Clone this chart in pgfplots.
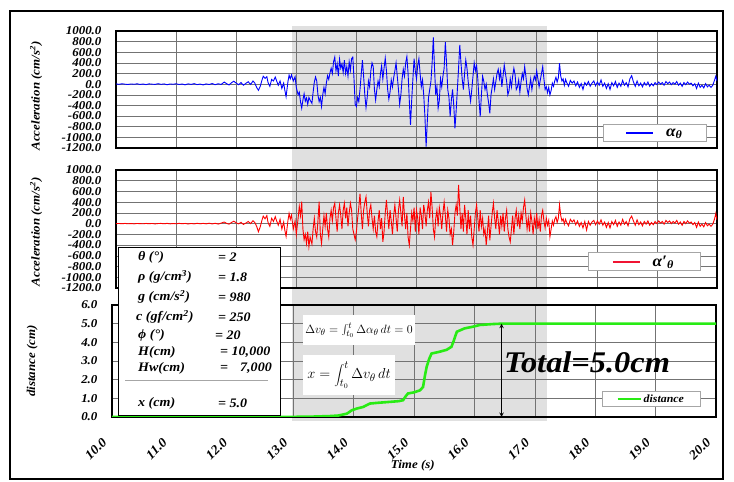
\documentclass[border=0pt]{standalone}
\usepackage{fontspec}
\setmainfont{Liberation Serif}[FakeStretch=1.08]
\usepackage{pgfplots}
\pgfplotsset{compat=1.18}
\definecolor{shadecol}{gray}{0.88}
\definecolor{gridc}{gray}{0.45}
\definecolor{lgreen}{RGB}{40,235,20}
\definecolor{lred}{RGB}{240,20,50}

\newcommand\bi[1]{\fontsize{#1}{#1}\selectfont\bfseries\itshape}

\pgfplotsset{
  legend image code/.code={\draw[#1, line width=1.6pt] (0pt,0pt) -- (27pt,0pt);},
  panel/.style={
    scale only axis, xmin=10, xmax=20, xtick={10,11,...,20},
    grid=major, major grid style={gridc, line width=0.5pt},
    axis line style={line width=1.4pt}, major tick length=0pt,
    scaled ticks=false,
    tick label style={font=\bi{12}},
    /pgf/number format/fixed, /pgf/number format/zerofill,
    /pgf/number format/precision=1, /pgf/number format/1000 sep={},
    /pgf/number format/assume math mode=true,
    yticklabel style={xshift=-11pt},
    ylabel style={font=\bi{12}, anchor=center},
    legend cell align=left,
  },
}

\begin{document}
\begin{tikzpicture}
\path[use as bounding box] (0,0) rectangle (734pt,482pt);
\draw[line width=1.2pt] (10pt,3pt) rectangle (723pt,471pt);
\fill[shadecol] (292pt,61pt) rectangle (547pt,456pt);

% top panel
\begin{axis}[panel, at={(116pt,334pt)}, anchor=south west, width=601pt, height=117pt,
  ymin=-1200, ymax=1000, ytick={-1200,-1000,...,1000}, xticklabels={},
  ylabel={Acceleration (cm/s\textsuperscript{2})},
  ylabel style={at={(axis description cs:-0.133,0.444)}},
  legend style={at={(0.983,0.051)}, anchor=south east, draw=gray!70, line width=0.6pt,
    inner xsep=22pt, inner ysep=2pt, font=\bi{16}}]
\addplot[blue, line width=0.9pt] coordinates {
(10.00,5)(10.05,-3)(10.10,8)(10.15,0)(10.20,-6)(10.25,4)(10.30,-2)(10.35,7)(10.40,-5)(10.45,3)(10.50,-8)(10.55,6)(10.60,0)(10.65,-4)(10.70,9)(10.75,-3)(10.80,5)(10.85,-10)(10.90,4)(10.95,-2)
(11.00,8)(11.05,-6)(11.10,3)(11.15,-12)(11.20,6)(11.25,-4)(11.30,10)(11.35,-8)(11.40,2)(11.45,-14)(11.50,5)(11.55,-6)(11.60,12)(11.65,-10)(11.70,8)(11.75,-5)(11.80,40)
(11.84,10)(11.88,-15)(11.92,25)(11.96,55)(12.00,20)(12.04,-10)(12.08,30)(12.12,-20)(12.16,15)(12.20,45)(12.24,-5)(12.28,60)(12.31,20)
(12.34,-60)(12.37,-115)(12.40,-40)(12.43,80)(12.45,150)(12.48,110)(12.51,140)(12.53,30)(12.56,-40)(12.59,90)(12.62,60)(12.65,135)(12.67,70)(12.70,-20)(12.73,60)(12.76,-80)(12.79,20)(12.81,-120)(12.83,-235)(12.86,40)(12.88,170)(12.90,100)(12.92,175)(12.95,60)(12.98,140)
(13.00,-60)(13.03,-200)(13.05,-150)(13.07,-330)(13.09,-450)(13.11,-300)(13.13,-180)(13.15,-320)(13.17,-260)(13.19,-380)(13.21,-250)(13.23,-300)(13.26,-360)(13.28,-150)(13.30,40)(13.32,135)(13.34,60)(13.36,-200)(13.38,-330)(13.40,-250)(13.42,-420)(13.44,-200)(13.46,-60)(13.48,-180)(13.50,20)
(13.52,160)(13.54,90)(13.56,210)(13.58,300)(13.60,200)(13.62,420)(13.64,510)(13.66,250)(13.68,380)(13.70,150)(13.72,470)(13.74,300)(13.76,380)(13.78,220)(13.80,450)(13.82,200)(13.84,330)(13.86,150)(13.88,420)(13.90,260)(13.92,480)(13.94,510)(13.96,100)(13.98,-380)
(14.00,-420)(14.02,-250)(14.04,-330)(14.06,-100)(14.08,180)(14.10,450)(14.12,150)(14.14,-200)(14.16,-440)(14.18,-250)(14.20,60)(14.22,-50)(14.24,250)(14.26,400)(14.28,330)(14.30,-100)(14.32,-300)(14.34,-100)(14.36,60)(14.38,-50)(14.40,200)(14.42,350)(14.44,100)(14.46,300)(14.48,490)
(14.50,250)(14.52,-100)(14.54,-280)(14.56,-150)(14.58,80)(14.60,-50)(14.62,120)(14.64,250)(14.66,400)(14.68,150)(14.70,-100)(14.72,-380)(14.74,-200)(14.76,100)(14.78,280)(14.80,150)(14.82,400)(14.84,520)(14.86,200)(14.88,-300)(14.90,-767)(14.92,-300)(14.94,100)(14.96,480)(14.98,250)
(15.00,100)(15.02,350)(15.04,480)(15.06,200)(15.08,-50)(15.10,80)(15.12,-200)(15.14,-600)(15.16,-1175)(15.18,-700)(15.20,-250)(15.22,-100)(15.24,50)(15.26,400)(15.28,880)(15.30,300)(15.32,-200)(15.34,-50)(15.36,-450)(15.38,-300)(15.40,100)(15.42,-50)(15.44,150)(15.46,300)(15.48,790)
(15.50,400)(15.52,-100)(15.54,-250)(15.56,-610)(15.58,-300)(15.60,-100)(15.62,-400)(15.64,-830)(15.66,-500)(15.68,-100)(15.70,300)(15.72,740)(15.74,400)(15.76,100)(15.78,-100)(15.80,200)(15.82,455)(15.84,300)(15.86,50)(15.88,-150)(15.90,-320)(15.92,-100)(15.94,150)(15.96,400)(15.98,250)
(16.00,350)(16.02,100)(16.04,-300)(16.06,-610)(16.08,-200)(16.10,150)(16.12,50)(16.14,-100)(16.16,0)(16.18,-200)(16.20,-350)(16.22,-550)(16.24,-200)(16.26,-50)(16.28,100)(16.30,-100)(16.32,50)(16.34,200)(16.36,280)(16.38,100)(16.40,250)(16.42,-50)(16.44,150)(16.46,360)(16.48,200)
(16.50,50)(16.52,-200)(16.54,-120)(16.56,100)(16.58,-50)(16.60,150)(16.62,300)(16.64,180)(16.66,-100)(16.68,-50)(16.70,80)(16.72,-150)(16.74,50)(16.76,200)(16.78,100)(16.80,330)(16.82,150)(16.84,-80)(16.86,-200)(16.88,-50)(16.90,100)(16.92,-100)(16.94,50)(16.96,150)(16.98,80)
(17.00,250)(17.02,100)(17.04,-50)(17.06,80)(17.08,200)(17.10,330)(17.12,100)(17.14,-100)(17.16,-50)(17.18,-160)(17.20,-60)(17.22,-203)(17.24,-120)(17.26,20)(17.28,-40)(17.30,60)(17.32,130)(17.34,40)(17.36,120)(17.38,393)(17.40,150)(17.42,60)(17.44,100)(17.46,-20)(17.48,90)
(17.50,30)(17.53,-40)(17.56,70)(17.59,20)(17.62,60)(17.65,-30)(17.68,40)(17.71,-60)(17.74,10)(17.77,-100)(17.80,30)(17.83,-20)(17.86,50)(17.89,-40)(17.92,20)(17.95,60)(17.98,-30)
(18.01,40)(18.04,-20)(18.07,80)(18.10,-40)(18.13,20)(18.16,-80)(18.19,10)(18.22,-100)(18.25,30)(18.28,-30)(18.31,50)(18.34,-60)(18.37,20)(18.40,-40)(18.43,70)(18.46,-20)(18.49,30)(18.52,-50)(18.55,100)(18.58,160)(18.61,40)(18.64,-40)(18.67,60)(18.70,-30)(18.73,20)(18.76,-50)(18.79,30)(18.82,-20)(18.85,40)(18.88,-40)(18.91,10)(18.94,-30)(18.97,30)
(19.00,-10)(19.03,40)(19.06,0)(19.09,30)(19.12,-20)(19.15,50)(19.18,10)(19.21,40)(19.24,-10)(19.27,30)(19.30,0)(19.33,50)(19.36,-20)(19.39,20)(19.42,-40)(19.45,30)(19.48,-10)(19.51,40)(19.54,0)(19.57,20)(19.60,-30)(19.63,10)(19.66,-80)(19.69,20)(19.72,-60)(19.75,-20)(19.78,-70)(19.81,10)(19.84,-50)(19.87,-20)(19.90,-60)(19.93,-20)(19.96,80)(19.98,150)(20.00,60)
};
\addlegendentry{\hspace{10pt}α\textsubscript{θ}}
\end{axis}

% middle panel
\begin{axis}[panel, at={(116pt,194pt)}, anchor=south west, width=601pt, height=118pt,
  ymin=-1200, ymax=1000, ytick={-1200,-1000,...,1000}, xticklabels={},
  ylabel={Acceleration (cm/s\textsuperscript{2})},
  ylabel style={at={(axis description cs:-0.133,0.475)}},
  legend style={at={(0.972,0.144)}, anchor=south east, draw=gray!70, line width=0.6pt,
    inner xsep=24pt, inner ysep=1pt, font=\bi{16}},
  legend image code/.code={\draw[lred, line width=1.6pt] (0pt,0pt) -- (27pt,0pt);}]
\addplot[red, line width=0.9pt] coordinates {
(10.00,0)(10.05,3)(10.10,-2)(10.15,4)(10.20,-3)(10.25,2)(10.30,-4)(10.35,3)(10.40,0)(10.45,-3)(10.50,4)(10.55,-2)(10.60,3)(10.65,-5)(10.70,2)(10.75,4)(10.80,-3)(10.85,5)(10.90,-4)(10.95,2)
(11.00,-3)(11.05,5)(11.10,-2)(11.15,4)(11.20,-6)(11.25,3)(11.30,-4)(11.35,6)(11.40,-3)(11.45,5)(11.50,-4)(11.55,8)(11.60,-5)(11.65,6)(11.70,-8)(11.75,10)(11.80,30)
(11.84,5)(11.88,-10)(11.92,20)(11.96,45)(12.00,15)(12.04,-5)(12.08,25)(12.12,-15)(12.16,10)(12.20,40)(12.24,0)(12.28,55)(12.31,20)
(12.34,-50)(12.37,-150)(12.40,-60)(12.43,70)(12.45,140)(12.48,90)(12.51,150)(12.53,20)(12.56,-50)(12.59,100)(12.62,40)(12.65,130)(12.67,60)(12.70,-30)(12.73,80)(12.76,-100)(12.79,30)(12.81,-130)(12.83,-240)(12.86,50)(12.88,190)(12.90,80)(12.92,160)(12.95,-100)(12.98,50)
(13.00,-200)(13.03,100)(13.05,320)(13.07,150)(13.09,410)(13.11,-100)(13.13,-300)(13.15,-200)(13.17,-370)(13.19,-150)(13.21,-430)(13.23,-250)(13.26,-380)(13.28,-100)(13.30,100)(13.32,-150)(13.34,-250)(13.36,50)(13.38,410)(13.40,-200)(13.42,-370)(13.44,-100)(13.46,150)(13.48,-50)(13.50,200)
(13.52,-100)(13.54,-250)(13.56,100)(13.58,250)(13.60,50)(13.62,300)(13.64,380)(13.66,100)(13.68,-150)(13.70,200)(13.72,350)(13.74,150)(13.76,-100)(13.78,250)(13.80,380)(13.82,100)(13.84,300)(13.86,-50)(13.88,200)(13.90,380)(13.92,250)(13.94,-100)(13.96,-200)(13.98,-300)
(14.00,-150)(14.02,100)(14.04,300)(14.06,560)(14.08,200)(14.10,-100)(14.12,250)(14.14,400)(14.16,500)(14.18,200)(14.20,-50)(14.22,250)(14.24,350)(14.26,100)(14.28,-100)(14.30,150)(14.32,-150)(14.34,-245)(14.36,50)(14.38,250)(14.40,-100)(14.42,100)(14.44,-340)(14.46,-150)(14.48,200)
(14.50,440)(14.52,150)(14.54,-100)(14.56,250)(14.58,50)(14.60,-200)(14.62,150)(14.64,350)(14.66,100)(14.68,-150)(14.70,250)(14.72,440)(14.74,200)(14.76,-50)(14.78,500)(14.80,150)(14.82,-100)(14.84,200)(14.86,-250)(14.88,-400)(14.90,-100)(14.92,200)(14.94,50)(14.96,300)(14.98,-150)
(15.00,250)(15.02,100)(15.04,-200)(15.06,300)(15.08,150)(15.10,-100)(15.12,350)(15.14,200)(15.16,-50)(15.18,250)(15.20,400)(15.22,100)(15.24,590)(15.26,300)(15.28,-100)(15.30,-250)(15.32,100)(15.34,250)(15.36,-50)(15.38,300)(15.40,150)(15.42,-100)(15.44,200)(15.46,400)(15.48,150)
(15.50,-150)(15.52,250)(15.54,100)(15.56,-200)(15.58,-100)(15.60,-400)(15.62,-150)(15.64,200)(15.66,350)(15.68,150)(15.70,720)(15.72,300)(15.74,-100)(15.76,200)(15.78,-150)(15.80,350)(15.82,100)(15.84,-200)(15.86,250)(15.88,-100)(15.90,150)(15.92,-250)(15.94,-400)(15.96,-100)(15.98,200)
(16.00,350)(16.02,100)(16.04,-150)(16.06,250)(16.08,-50)(16.10,100)(16.12,-200)(16.14,-100)(16.16,-400)(16.18,-150)(16.20,150)(16.22,-310)(16.24,-50)(16.26,200)(16.28,380)(16.30,100)(16.32,-100)(16.34,250)(16.36,50)(16.38,-200)(16.40,150)(16.42,-50)(16.44,200)(16.46,-150)(16.48,100)
(16.50,250)(16.52,-100)(16.54,-250)(16.56,-340)(16.58,-100)(16.60,150)(16.62,-200)(16.64,100)(16.66,250)(16.68,-50)(16.70,150)(16.72,-100)(16.74,200)(16.76,50)(16.78,300)(16.80,440)(16.82,150)(16.84,-100)(16.86,100)(16.88,-150)(16.90,200)(16.92,50)(16.94,-200)(16.96,100)(16.98,-50)
(17.00,200)(17.02,-100)(17.04,80)(17.06,-150)(17.08,150)(17.10,250)(17.12,50)(17.14,-80)(17.16,100)(17.18,-30)(17.20,60)(17.22,-245)(17.24,-100)(17.26,50)(17.28,-30)(17.30,80)(17.32,130)(17.34,20)(17.36,100)(17.38,350)(17.40,150)(17.42,50)(17.44,90)(17.46,-10)(17.48,80)
(17.50,20)(17.53,-40)(17.56,80)(17.59,30)(17.62,70)(17.65,-20)(17.68,50)(17.71,-50)(17.74,20)(17.77,-80)(17.80,40)(17.83,-120)(17.86,40)(17.89,-30)(17.92,30)(17.95,60)(17.98,-20)
(18.01,50)(18.04,-10)(18.07,70)(18.10,-30)(18.13,30)(18.16,-70)(18.19,20)(18.22,-80)(18.25,40)(18.28,-20)(18.31,60)(18.34,-50)(18.37,30)(18.40,-30)(18.43,80)(18.46,-10)(18.49,40)(18.52,-40)(18.55,90)(18.58,140)(18.61,50)(18.64,-30)(18.67,70)(18.70,-20)(18.73,30)(18.76,-40)(18.79,40)(18.82,-10)(18.85,50)(18.88,-30)(18.91,20)(18.94,-20)(18.97,40)
(19.00,0)(19.03,50)(19.06,10)(19.09,40)(19.12,-10)(19.15,60)(19.18,20)(19.21,50)(19.24,0)(19.27,40)(19.30,10)(19.33,60)(19.36,-10)(19.39,30)(19.42,-30)(19.45,40)(19.48,0)(19.51,50)(19.54,10)(19.57,30)(19.60,-20)(19.63,20)(19.66,-70)(19.69,30)(19.72,-50)(19.75,-10)(19.78,-60)(19.81,20)(19.84,-40)(19.87,-10)(19.90,-50)(19.93,-10)(19.96,90)(19.98,190)(20.00,70)
};
\addlegendentry{\hspace{10pt}α′\textsubscript{θ}}
\end{axis}

% bottom panel
\begin{axis}[panel, at={(112pt,65pt)}, anchor=south west, width=604pt, height=112pt,
  ymin=0, ymax=6, ytick={0,1,...,6},
  xticklabel style={font=\bi{13}, yshift=-21pt, xshift=-5pt, rotate=45, anchor=east},
  xlabel={Time (s)}, xlabel style={font=\bi{12}, at={(axis description cs:0.498,-0.43)}, anchor=center},
  ylabel={distance (cm)},
  ylabel style={at={(axis description cs:-0.132,0.5)}},
  legend style={at={(0.974,0.089)}, anchor=south east, draw=gray!70, line width=0.6pt,
    inner xsep=14pt, inner ysep=1pt, font=\bi{11}},
  legend image code/.code={\draw[#1, line width=2.2pt] (0pt,0pt) -- (23pt,0pt);}]
\addplot[lgreen, line width=2.6pt] coordinates {
(10,0)(12.78,0)(13.3,0.02)(13.61,0.05)(13.75,0.08)(13.89,0.18)(13.97,0.36)(14.05,0.45)(14.16,0.54)(14.27,0.72)(14.4,0.76)(14.6,0.81)(14.75,0.85)(14.82,0.9)(14.86,1.1)(14.9,1.26)(15.0,1.32)(15.1,1.43)(15.15,1.61)(15.18,2.2)(15.21,2.69)(15.25,3.1)(15.29,3.4)(15.43,3.5)(15.54,3.6)(15.62,3.76)(15.66,4.1)(15.68,4.3)(15.71,4.57)(15.84,4.75)(15.98,4.84)(16.09,4.93)(16.31,4.98)(16.45,5.0)(20,5.0)
};
\addlegendentry{distance}
\draw[<->, >=stealth, line width=1pt] (axis cs:16.45,5) -- (axis cs:16.45,0);
\node[anchor=west, inner sep=0pt, font=\bi{30}] at (axis cs:16.49,2.95) {Total=5.0cm};
\end{axis}

% formula boxes
\node[fill=white, minimum width=112pt, minimum height=30pt, inner sep=0pt, font=\fontsize{13}{13}\selectfont]
  at (359pt,152pt) {$\Delta v_\theta=\int_{t_0}^{t}\Delta\alpha_\theta\,dt=0$};
\node[fill=white, minimum width=92pt, minimum height=40pt, inner sep=0pt, font=\fontsize{15}{15}\selectfont]
  at (349pt,107pt) {$\displaystyle x=\int_{t_0}^{t}\Delta v_\theta\,dt$};

% parameter box
\draw[fill=white, line width=0.8pt] (118pt,67pt) rectangle (280pt,235pt);
\begin{scope}[every node/.style={anchor=west, inner sep=0pt, font=\bi{13}}]
\node at (138pt,225pt) {θ (°)};              \node at (218pt,225pt) {= 2};
\node at (138pt,205pt) {ρ (g/cm\textsuperscript{3})}; \node at (218pt,205pt) {= 1.8};
\node at (138pt,185pt) {g (cm/s\textsuperscript{2})}; \node at (218pt,185pt) {= 980};
\node at (136pt,165pt) {c (gf/cm\textsuperscript{2})}; \node at (218pt,165pt) {= 250};
\node at (138pt,147pt) {ϕ (°)};              \node at (215pt,147pt) {= 20};
\node at (138pt,130pt) {H(cm)};              \node at (220pt,130pt) {= 10,000};
\node at (138pt,114pt) {Hw(cm)};             \node at (220pt,114pt) {=};
\node[anchor=east] at (272pt,114pt) {7,000};
\node at (138pt,79pt) {x (cm)};              \node at (218pt,79pt) {= 5.0};
\end{scope}
\draw[gray!70, line width=0.7pt] (125pt,102pt) -- (268pt,102pt);
\end{tikzpicture}
\end{document}
